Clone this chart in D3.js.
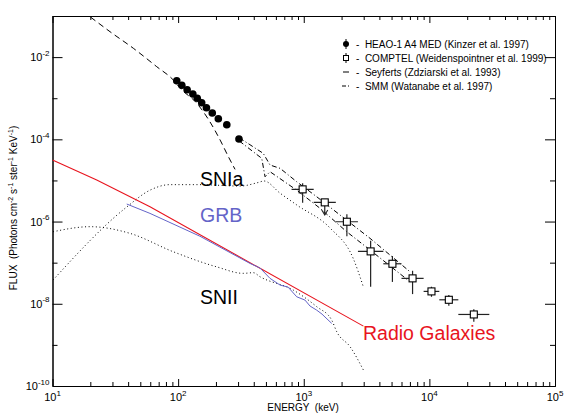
<!DOCTYPE html>
<html>
<head>
<meta charset="utf-8">
<script src="https://cdn.jsdelivr.net/npm/d3@7"></script>
<style>
  body { margin: 0; background: #fff; }
  svg { font-family: "Liberation Sans", Arial, Helvetica, sans-serif; }
  text { white-space: pre; }
</style>
</head>
<body>
<div id="chart"></div>
<script>
// --- data (energy in keV, flux in photons cm-2 s-1 ster-1 keV-1) ---

// HEAO-1 A4 MED
const heaoEnergy = [97.5, 107, 118, 131, 142, 154, 168, 187, 209, 244, 305];
const heaoFlux = [2.67e-3, 2.06e-3, 1.61e-3, 1.27e-3, 9.95e-4, 7.77e-4, 5.87e-4, 4.37e-4, 3.17e-4, 2.27e-4, 1.02e-4];

// COMPTEL bins
const comptelLo = [800, 1200, 1800, 2700, 4300, 6000, 9000, 12000, 17000];
const comptelHi = [1200, 1800, 2700, 4300, 6000, 9000, 12000, 17000, 30000];
const comptelFlux = [6.07e-6, 2.93e-6, 9.9e-7, 1.88e-7, 9.4e-8, 4.15e-8, 2.0e-8, 1.25e-8, 5.5e-9];
const comptelErrHi = [8.5e-6, null, 1.5e-6, 3.4e-7, 1.45e-7, 6.35e-8, 2.6e-8, 1.63e-8, 7.4e-9];
const comptelErrLo = [2.86e-6, 1.44e-6, 4.4e-7, 2.6e-8, 3.4e-8, 1.72e-8, 1.48e-8, 8.9e-9, 3.65e-9];
const comptelUpperLimit = [false, true, false, false, false, false, false, false, false];

// Seyferts model
const seyfertEnergy = [15, 19.9, 28.7, 44, 67.6, 91.6, 104, 141, 179, 216, 251, 284];
const seyfertFlux = [1.84e-1, 9.6e-2, 4.15e-2, 1.64e-2, 5.84e-3, 2.77e-3, 1.74e-3, 7.5e-4, 2.68e-4, 9.6e-5, 3.8e-5, 1.86e-5];

// SMM band (upper and lower bound)
const smmUpperEnergy = [307, 476, 539, 648, 879, 1270, 1945, 3373, 7015];
const smmUpperFlux = [1.09e-4, 4.56e-5, 2.37e-5, 1.97e-5, 9.3e-6, 4.0e-6, 1.44e-6, 3.9e-7, 6.0e-8];
const smmLowerEnergy = [307, 463, 492, 539, 879, 1349, 2198, 3373, 7015];
const smmLowerFlux = [9.1e-5, 3.45e-5, 1.23e-5, 1.63e-5, 5.8e-6, 2.1e-6, 5.65e-7, 2.03e-7, 3.43e-8];

// SNIa
const sn1aEnergy = [10.1, 39, 59.7, 86.1, 149, 311, 433, 483, 648, 885, 1620, 2470, 2967];
const sn1aFlux = [3.78e-8, 2.26e-6, 5.8e-6, 7.9e-6, 7.9e-6, 7.3e-6, 8.9e-6, 9.7e-6, 4.9e-6, 2.5e-6, 6.95e-7, 1.29e-7, 2.7e-8];

// SNII
const sn2Energy = [10.1, 19.9, 41.4, 91.6, 203, 330, 397, 449, 826, 1268, 1670, 1832, 2339, 2985];
const sn2Flux = [5.65e-7, 7.5e-7, 5.16e-7, 1.84e-7, 7.9e-8, 5.5e-8, 5.7e-8, 4.54e-8, 2.15e-8, 8.5e-9, 4.0e-9, 2.08e-9, 9.0e-10, 2.44e-10];

// GRB
const grbEnergy = [39, 59.7, 149, 373, 449, 539, 648, 750, 879, 1023, 1122, 1268, 1398, 1505, 1670];
const grbFlux = [2.67e-6, 1.58e-6, 4.4e-7, 9.6e-8, 7.4e-8, 4.15e-8, 2.85e-8, 2.55e-8, 1.48e-8, 1.23e-8, 8.8e-9, 7.0e-9, 5.6e-9, 4.5e-9, 3.33e-9];

// Radio galaxies
const radioEnergy = [10, 22.5, 59.7, 2985];
const radioFlux = [3.13e-5, 1.02e-5, 2.29e-6, 2.86e-9];

// axis ticks
const xMajorTicks = [1e1, 1e2, 1e3, 1e4, 1e5];
const xMajorExp = ["1", "2", "3", "4", "5"];
const yMajorTicks = [1e-2, 1e-4, 1e-6, 1e-8, 1e-10];
const yMajorExp = ["-2", "-4", "-6", "-8", "-10"];
const yMinorTicks = [1e-1, 1e-3, 1e-5, 1e-7, 1e-9];

const legendLabels = [
  "HEAO-1 A4 MED (Kinzer et al. 1997)",
  "COMPTEL (Weidenspointner et al. 1999)",
  "Seyferts (Zdziarski et al. 1993)",
  "SMM (Watanabe et al. 1997)"
];

// --- drawing ---

const W = 570, H = 420;
const plot = {left: 52.5, right: 555, top: 16, bottom: 386};
const RED = "#e8141e", BLUE = "#6464c8";

const svg = d3.select("#chart").append("svg")
  .attr("width", W).attr("height", H);

const x = d3.scaleLog().domain([10, 1e5]).range([plot.left, plot.right]);
const y = d3.scaleLog().domain([1e-10, 1e-1]).range([plot.bottom, plot.top]);

// minor x ticks 2..9 in every decade
const xMinorTicks = [];
for (let d = 1; d < 5; d++) {
  for (let m = 2; m <= 9; m++) xMinorTicks.push(m * Math.pow(10, d));
}

function styleAxis(g) {
  g.selectAll("path, line").attr("stroke", "#000").attr("stroke-width", 1);
  g.selectAll("text").remove();
}

// bottom & top
[[d3.axisBottom, plot.bottom], [d3.axisTop, plot.top]].forEach(([axisFn, pos]) => {
  svg.append("g").attr("transform", `translate(0,${pos})`)
    .call(axisFn(x).tickValues(xMinorTicks).tickSize(-4).tickSizeOuter(0))
    .call(styleAxis);
  svg.append("g").attr("transform", `translate(0,${pos})`)
    .call(axisFn(x).tickValues(xMajorTicks).tickSize(-7).tickSizeOuter(0))
    .call(styleAxis);
});

// left & right
[[d3.axisLeft, plot.left], [d3.axisRight, plot.right]].forEach(([axisFn, pos]) => {
  svg.append("g").attr("transform", `translate(${pos},0)`)
    .call(axisFn(y).tickValues(yMinorTicks).tickSize(-5).tickSizeOuter(0))
    .call(styleAxis);
  svg.append("g").attr("transform", `translate(${pos},0)`)
    .call(axisFn(y).tickValues(yMajorTicks).tickSize(-10).tickSizeOuter(0))
    .call(styleAxis);
});

// tick labels with superscripts
function powerLabel(sel, exp) {
  sel.append("tspan").text("10");
  sel.append("tspan").attr("dy", -5.5).attr("font-size", 8).text(exp);
}

svg.append("g").selectAll("text")
  .data(xMajorTicks)
  .join("text")
  .attr("x", d => x(d))
  .attr("y", plot.bottom + 15)
  .attr("text-anchor", "middle")
  .attr("font-size", 11)
  .each(function(d, i) { powerLabel(d3.select(this), xMajorExp[i]); });

svg.append("g").selectAll("text")
  .data(yMajorTicks)
  .join("text")
  .attr("x", plot.left - 3)
  .attr("y", d => y(d) + 4)
  .attr("text-anchor", "end")
  .attr("font-size", 11)
  .each(function(d, i) { powerLabel(d3.select(this), yMajorExp[i]); });

// axis titles
svg.append("text")
  .attr("x", 303)
  .attr("y", plot.bottom + 25)
  .attr("text-anchor", "middle")
  .attr("font-size", 10)
  .text("ENERGY  (keV)");

const yTitle = svg.append("text")
  .attr("transform", `translate(17,${(plot.top + plot.bottom) / 2 + 7}) rotate(-90)`)
  .attr("text-anchor", "middle")
  .attr("font-size", 10);
[["FLUX  (Photons cm", 0], ["-2", -4], [" s", 4], ["-1", -4], [" ster", 4], ["-1", -4], [" KeV", 4], ["-1", -4], [")", 4]]
  .forEach(([t, dy]) => {
    const ts = yTitle.append("tspan").attr("dy", dy).text(t);
    if (dy < 0) ts.attr("font-size", 7);
  });

// clip to frame
svg.append("clipPath").attr("id", "clip")
  .append("rect")
  .attr("x", plot.left).attr("y", plot.top)
  .attr("width", plot.right - plot.left).attr("height", plot.bottom - plot.top);

const g = svg.append("g").attr("clip-path", "url(#clip)");

const zip = (xs, ys) => xs.map((v, i) => [v, ys[i]]);
const line = d3.line().x(d => x(d[0])).y(d => y(d[1]));
const smooth = d3.line().x(d => x(d[0])).y(d => y(d[1])).curve(d3.curveMonotoneX);

function drawCurve(data, gen, color, dash, width) {
  g.append("path")
    .datum(data)
    .attr("d", gen)
    .attr("fill", "none")
    .attr("stroke", color)
    .attr("stroke-width", width || 1)
    .attr("stroke-dasharray", dash);
}

drawCurve(zip(sn1aEnergy, sn1aFlux), smooth, "#000", "1,2.6");
drawCurve(zip(sn2Energy, sn2Flux), smooth, "#000", "1,2.6");
drawCurve(zip(radioEnergy, radioFlux), line, RED, null, 1.1);
drawCurve(zip(grbEnergy, grbFlux), line, BLUE, null, 1);
drawCurve(zip(seyfertEnergy, seyfertFlux), smooth, "#000", "6,4");
drawCurve(zip(smmUpperEnergy, smmUpperFlux), line, "#000", "5,2.5,1,2.5");
drawCurve(zip(smmLowerEnergy, smmLowerFlux), line, "#000", "5,2.5,1,2.5");

// HEAO-1 points
g.selectAll(".heao")
  .data(zip(heaoEnergy, heaoFlux))
  .join("circle")
  .attr("class", "heao")
  .attr("cx", d => x(d[0]))
  .attr("cy", d => y(d[1]))
  .attr("r", 3.8)
  .attr("fill", "#000");

// COMPTEL points with error bars
const comptel = comptelFlux.map((f, i) => ({
  lo: comptelLo[i], hi: comptelHi[i], e: Math.sqrt(comptelLo[i] * comptelHi[i]),
  f: f, fHi: comptelErrHi[i], fLo: comptelErrLo[i], ul: comptelUpperLimit[i]
}));

const cg = g.selectAll(".comptel").data(comptel).join("g").attr("class", "comptel");
cg.append("line")
  .attr("x1", d => x(d.lo)).attr("x2", d => x(d.hi))
  .attr("y1", d => y(d.f)).attr("y2", d => y(d.f))
  .attr("stroke", "#222").attr("stroke-width", 1.2);
cg.append("line")
  .attr("x1", d => x(d.e)).attr("x2", d => x(d.e))
  .attr("y1", d => y(d.fHi || d.f)).attr("y2", d => y(d.fLo))
  .attr("stroke", "#222").attr("stroke-width", 1.2);
cg.filter(d => d.ul).append("path")
  .attr("d", d => `M${x(d.e) - 3},${y(d.fLo) - 5}L${x(d.e)},${y(d.fLo)}L${x(d.e) + 3},${y(d.fLo) - 5}`)
  .attr("fill", "none").attr("stroke", "#222").attr("stroke-width", 1.1);
cg.append("rect")
  .attr("x", d => x(d.e) - 3.5).attr("y", d => y(d.f) - 3.5)
  .attr("width", 7).attr("height", 7)
  .attr("fill", "#fff").attr("stroke", "#000").attr("stroke-width", 1.1);

// curve labels
const labels = [
  {text: "SNIa", x: 200, y: 186, color: "#000"},
  {text: "GRB", x: 200, y: 222, color: BLUE},
  {text: "SNII", x: 200, y: 304, color: "#000"},
  {text: "Radio Galaxies", x: 363, y: 340, color: RED}
];
svg.append("g").selectAll("text")
  .data(labels)
  .join("text")
  .attr("x", d => d.x).attr("y", d => d.y)
  .attr("font-size", 19.5)
  .attr("fill", d => d.color)
  .text(d => d.text);

// legend
const legend = svg.append("g").attr("transform", "translate(346,44)");
const rowH = 14;
legendLabels.forEach((label, i) => {
  const row = legend.append("g").attr("transform", `translate(0,${i * rowH})`);
  if (i === 0) {
    row.append("line").attr("y1", -5).attr("y2", 5).attr("stroke", "#000");
    row.append("circle").attr("r", 3).attr("fill", "#000");
  } else if (i === 1) {
    row.append("line").attr("y1", -5).attr("y2", 5).attr("stroke", "#000");
    row.append("rect").attr("x", -2.5).attr("y", -2.5).attr("width", 5).attr("height", 5)
      .attr("fill", "#fff").attr("stroke", "#000");
  } else if (i === 2) {
    row.append("line").attr("x1", -3).attr("x2", 3).attr("stroke", "#000");
  } else {
    row.append("line").attr("x1", -4).attr("x2", 4).attr("stroke", "#000")
      .attr("stroke-dasharray", "4,2,1,2");
  }
  row.append("text")
    .attr("x", 10).attr("y", 3.5)
    .attr("font-size", 10)
    .text("-  " + label);
});
</script>
</body>
</html>
